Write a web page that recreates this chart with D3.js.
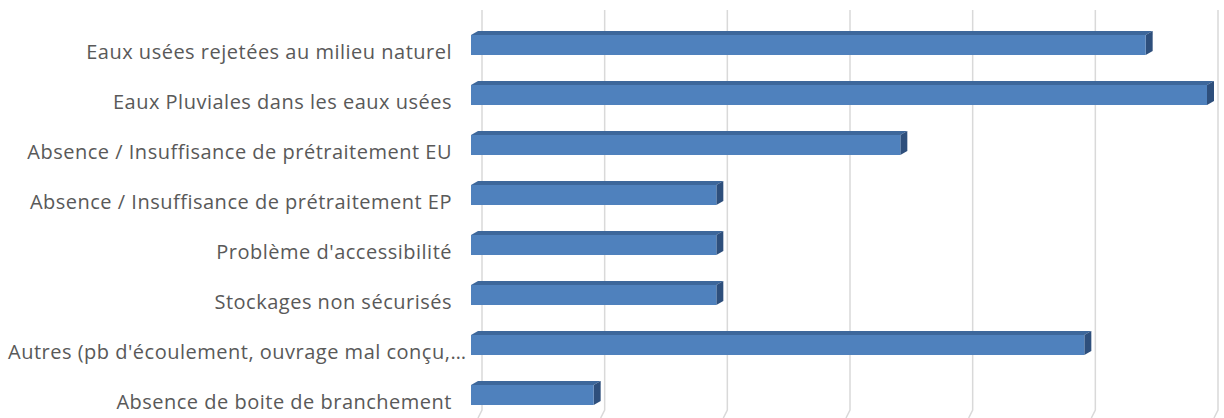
<!DOCTYPE html>
<html><head><meta charset="utf-8">
<script src="https://cdn.jsdelivr.net/npm/d3@7"></script>
<style>html,body{margin:0;padding:0;background:#fff;}</style>
</head><body>
<svg id="c" width="1224" height="418"></svg>
<script>
const categories = [
  "Eaux usées rejetées au milieu naturel",
  "Eaux Pluviales dans les eaux usées",
  "Absence / Insuffisance de prétraitement EU",
  "Absence / Insuffisance de prétraitement EP",
  "Problème d'accessibilité",
  "Stockages non sécurisés",
  "Autres (pb d'écoulement, ouvrage mal conçu,…",
  "Absence de boite de branchement"
];
const values = [11, 12, 7, 4, 4, 4, 10, 2];
const gridTicks = [0, 2, 4, 6, 8, 10, 12];

const svg = d3.select("#c");
const dx = 7, dy = -4;          // 3D depth offset of bars
const wallDx = 11;              // back wall offset relative to front plane
const x = d3.scaleLinear().domain([0, 12]).range([471, 1207]);
const y = d3.scaleBand().domain(categories).range([20, 420]).paddingInner(0.6).paddingOuter(0.3);

// gridlines on back wall + floor
const g = svg.append("g");
gridTicks.forEach(t => {
  const xb = x(t) + wallDx;
  g.append("path")
    .attr("d", `M${xb},10 L${xb},410 L${xb-4},418`)
    .attr("fill", "none").attr("stroke", "#d9d9d9").attr("stroke-width", 1.5);
});

// bars
const bars = svg.append("g").selectAll("g").data(categories).join("g");
bars.each(function(c, i) {
  const sel = d3.select(this);
  const x0 = x(0), x1 = x(values[i]);
  const yt = y(c), h = y.bandwidth();
  sel.append("path")
    .attr("d", `M${x0},${yt} L${x0+dx},${yt+dy} L${x1+dx},${yt+dy} L${x1},${yt} Z`)
    .attr("fill", "#3D679B");
  sel.append("path")
    .attr("d", `M${x1},${yt} L${x1+dx},${yt+dy} L${x1+dx},${yt+h+dy} L${x1},${yt+h} Z`)
    .attr("fill", "#2E4F7C");
  sel.append("rect").attr("x", x0).attr("y", yt).attr("width", x1 - x0).attr("height", h)
    .attr("fill", "#4F81BD");
});

// labels
const lab = svg.append("g").selectAll("text").data(categories).join("text")
  .attr("x", 452)
  .attr("y", d => y(d) + y.bandwidth() / 2 + 6)
  .attr("text-anchor", "end")
  .attr("dominant-baseline", "central")
  .attr("font-family", "'Open Sans', sans-serif")
  .attr("font-size", 20)
  .attr("letter-spacing", 0.5)
  .attr("fill", "#595959")
  .text(d => d);
lab.each(function() {
  const w = this.getComputedTextLength();
  if (w > 444) d3.select(this).attr("text-anchor", "start").attr("x", 8);
});
</script>
</body></html>
